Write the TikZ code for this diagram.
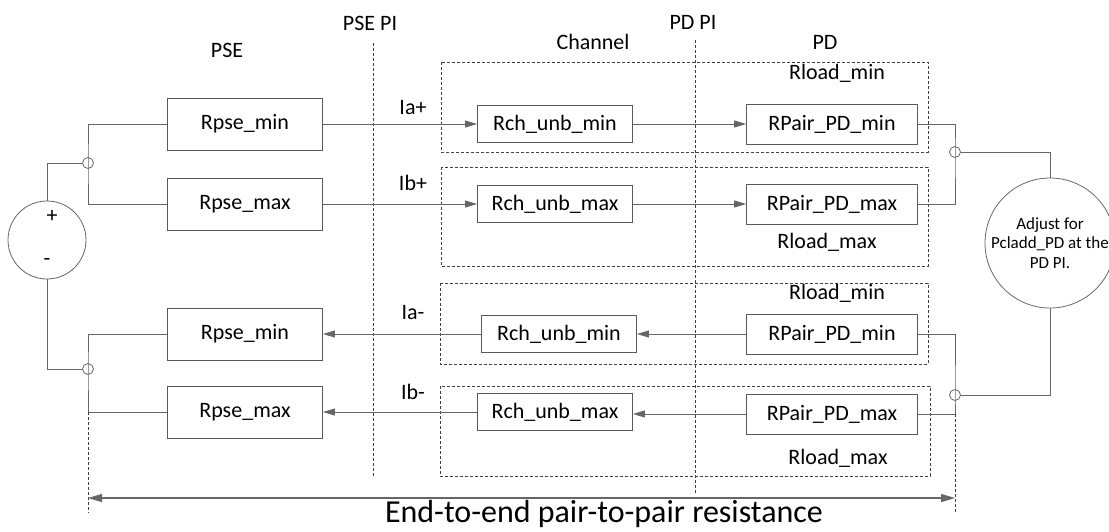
\documentclass[tikz,border=0pt]{standalone}
\usepackage{fontspec}
\setmainfont{Carlito}
\usetikzlibrary{arrows.meta}

\begin{document}
\begin{tikzpicture}[x=1pt,y=-1pt,
	font=\fontsize{22}{26}\selectfont,
	wire/.style={draw=black!60, line width=0.9pt},
	res/.style={rectangle, draw=black!65, line width=0.9pt, inner sep=0pt},
	pse/.style={res, minimum width=155pt, minimum height=52pt},
	chan/.style={res, minimum width=155pt, minimum height=37pt},
	pair/.style={res, minimum width=171pt, minimum height=40pt},
	frame/.style={draw=black!75, line width=0.7pt, dash pattern=on 3pt off 2pt},
	joint/.style={circle, draw=black!60, line width=0.8pt, minimum size=11pt, inner sep=0pt},
	flow/.style={wire, -{Triangle[length=12pt,width=7pt]}}]
	\useasboundingbox (0,0) rectangle (1109,531);
	% section labels
	\node (lpse) at (227,50) {PSE};
	\node (lpsepi) at (370,23) {PSE PI};
	\node (lchan) at (593,42) {Channel};
	\node (lpdpi) at (693,22) {PD PI};
	\node (lpd) at (825,42) {PD};
	\draw[frame] (373,43) -- (373,478);
	\draw[frame] (695,40) -- (695,493);
	% dashed groups
	\draw[frame] (441,62) rectangle (928,152);
	\draw[frame] (441,167) rectangle (928,266);
	\draw[frame] (440,283) rectangle (928,364);
	\draw[frame] (440,386) rectangle (930,476);
	\node (rl1) at (837,73) {Rload\_min};
	\node (rl2) at (827,242) {Rload\_max};
	\node (rl3) at (837,293) {Rload\_min};
	\node (rl4) at (838,458) {Rload\_max};
	% resistors
	\node[pse] (psea) at (245,124) {Rpse\_min};
	\node[pse] (pseb) at (245,204) {Rpse\_max};
	\node[pse] (psec) at (245,334) {Rpse\_min};
	\node[pse] (psed) at (245,412) {Rpse\_max};
	\node[chan] (cha) at (555,124) {Rch\_unb\_min};
	\node[chan] (chb) at (555,204) {Rch\_unb\_max};
	\node[chan] (chc) at (559,334) {Rch\_unb\_min};
	\node[chan] (chd) at (555,412) {Rch\_unb\_max};
	\node[pair] (pda) at (832,124) {RPair\_PD\_min};
	\node[pair] (pdb) at (832,204) {RPair\_PD\_max};
	\node[pair] (pdc) at (832,334) {RPair\_PD\_min};
	\node[pair] (pdd) at (832,414) {RPair\_PD\_max};
	% currents
	\node (ia1) at (413,108) {Ia+};
	\node (ib1) at (413,183) {Ib+};
	\node (ia2) at (413,313) {Ia-};
	\node (ib2) at (413,392) {Ib-};
	% source and load
	\node[circle, draw=black!60, line width=0.8pt, minimum size=78pt, inner sep=0pt] (src) at (47,240) {};
	\node (plus) at (52,216) {+};
	\node (minus) at (47,262) {-};
	\node[circle, draw=black!60, line width=0.8pt, minimum size=130pt, inner sep=0pt, align=center,
		font=\fontsize{17}{19.5}\selectfont] (adj) at (1050,243) {Adjust for\\Pcladd\_PD at the\\PD PI.};
	\node[joint] (jl1) at (88,163) {};
	\node[joint] (jl2) at (88,369) {};
	\node[joint] (jr1) at (955,152) {};
	\node[joint] (jr2) at (955,395) {};
	% wiring
	\draw[wire] (src.north) |- (jl1);
	\draw[wire] (src.south) |- (jl2);
	\draw[wire] (psea.west) -| (jl1.center) |- (pseb.west);
	\draw[wire] (psec.west) -| (jl2.center) |- (psed.west);
	\draw[wire] (pda.east) -| (jr1.center) |- (pdb.east);
	\draw[wire] (pdc.east) -| (jr2.center) |- (pdd.east);
	\draw[wire] (jr1) -| (adj.north);
	\draw[wire] (adj.south) |- (jr2);
	\draw[flow] (psea) -- (cha);
	\draw[flow] (cha) -- (pda);
	\draw[flow] (pseb) -- (chb);
	\draw[flow] (chb) -- (pdb);
	\draw[flow] (pdc.west) -- (chc.east);
	\draw[flow] (chc.west) -- (psec.east);
	\draw[flow] (pdd.west) -- (chd.east |- pdd.west);
	\draw[flow] (chd) -- (psed);
	% end-to-end
	\coordinate (el) at (88,498);
	\coordinate (er) at (955,498);
	\draw[frame] (jl2.center |- psed.west) -- (88,513);
	\draw[frame] (jr2.center |- pdd.east) -- (955,513);
	\draw[wire, line width=1.2pt, {Triangle[length=14pt,width=8pt]}-{Triangle[length=14pt,width=8pt]}] (el) -- (er);
	\node[font=\fontsize{32}{36}\selectfont, anchor=base, inner sep=0pt] (span) at (604,522) {End-to-end pair-to-pair resistance};
\end{tikzpicture}
\end{document}
